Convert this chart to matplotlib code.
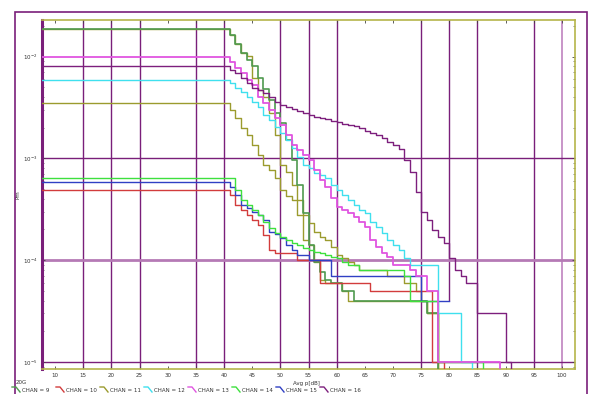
import numpy as np
import matplotlib
matplotlib.use('Agg')
import matplotlib.pyplot as plt
from matplotlib.lines import Line2D
from matplotlib.patches import Rectangle
from matplotlib.ticker import LogLocator, NullFormatter

W, H = 591, 394

# ---------------- data ----------------
x_ticks = [10, 15, 20, 25, 30, 35, 40, 45, 50, 55, 60, 65, 70, 75, 80, 85, 90, 95, 100]
x_tick_labels = [str(v) for v in x_ticks]
y_ticks = [1e-2, 1e-3, 1e-4, 1e-5]
y_tick_labels = [r'$10^{-2}$', r'$10^{-3}$', r'$10^{-4}$', r'$10^{-5}$']
x_grid = [15, 20, 25, 35, 40, 50, 55, 60, 75, 85, 95]
chan_labels = ['CHAN = 9', 'CHAN = 10', 'CHAN = 11', 'CHAN = 12',
               'CHAN = 13', 'CHAN = 14', 'CHAN = 15', 'CHAN = 16']
step_start = 41  # first step (dB); steps every 1 dB

chan9_init = 0.0186
chan9_levels = [0.01626, 0.01327, 0.01082, 0.00924, 0.00807, 0.00615, 0.0048, 0.00374,
                0.00279, 0.00222, 0.00151, 0.000963, 0.000547, 0.00029, 0.000141, 9.5e-5,
                7.6e-5, 6.4e-5, 6e-5, 6e-5, 5e-5, 5e-5,
                4e-5, 4e-5, 4e-5, 4e-5, 4e-5, 4e-5, 4e-5, 4e-5, 4e-5, 4e-5, 4e-5, 4e-5, 4e-5,
                3e-5, 3e-5]
chan9_end = 78

chan11a_init = 0.0186
chan11a_levels = [0.01626, 0.01327, 0.01082, 0.0101, 0.00615, 0.00469, 0.004, 0.00279,
                  0.00169, 0.00086, 0.000734, 0.000547, 0.00039, 0.000278, 0.000232, 0.000189,
                  0.000169, 0.000158, 0.000134, 0.000112, 0.000105, 9.5e-5, 9e-5,
                  8e-5, 8e-5, 8e-5, 8e-5, 8e-5, 7e-5, 7e-5, 7e-5, 6e-5, 6e-5, 5e-5, 4e-5,
                  3e-5, 3e-5]
chan11a_end = 78

chan11b_init = 0.00349
chan11b_levels = [0.00298, 0.00249, 0.00199, 0.00169, 0.00135, 0.00108, 0.00086, 0.000768,
                  0.000641, 0.000489, 0.00043, 0.00039, 0.000278, 0.000158, 0.000141, 9.5e-5,
                  6.4e-5, 6e-5, 6e-5, 6e-5, 5e-5,
                  4e-5, 4e-5, 4e-5, 4e-5, 4e-5, 4e-5, 4e-5, 4e-5, 4e-5, 4e-5, 4e-5, 4e-5, 4e-5, 4e-5,
                  3e-5, 3e-5]
chan11b_end = 78

chan13_init = 0.00989
chan13_levels = [0.00883, 0.0077, 0.00689, 0.00588, 0.00525, 0.004, 0.00349, 0.00298,
                 0.00249, 0.00212, 0.00169, 0.00135, 0.0012, 0.00108, 0.000963, 0.000768,
                 0.000613, 0.000522, 0.000408, 0.000333, 0.000311, 0.00029, 0.000265, 0.000237,
                 0.000211, 0.000158, 0.000134, 0.000117, 0.000107, 9e-5, 9e-5, 9e-5, 8e-5,
                 7e-5, 7e-5, 5e-5, 5e-5,
                 1e-5, 1e-5, 1e-5, 1e-5, 1e-5, 1e-5, 1e-5, 1e-5, 1e-5, 1e-5, 1e-5]
chan13_end = 89

chan12_init = 0.00588
chan12_levels = [0.00549, 0.00491, 0.00448, 0.004, 0.00357, 0.00319, 0.00266, 0.00238,
                 0.00203, 0.00177, 0.00151, 0.00126, 0.00103, 0.00086, 0.000804, 0.000718,
                 0.000686, 0.000641, 0.000547, 0.000489, 0.000436, 0.00039, 0.000348, 0.000311,
                 0.00029, 0.000237, 0.000211, 0.000185, 0.000158, 0.000141, 0.000126, 0.000105,
                 9e-5, 9e-5, 9e-5, 9e-5, 9e-5,
                 3e-5, 3e-5, 3e-5, 3e-5, 1e-5, 1e-5]
chan12_end = 84

chan16_init = 0.00807
chan16_levels = [0.00737, 0.00689, 0.00615, 0.00549, 0.00491, 0.00469, 0.00438, 0.004,
                 0.00357, 0.00334, 0.00319, 0.00305, 0.00291, 0.00279, 0.00266, 0.00255,
                 0.00249, 0.00243, 0.00233, 0.00227, 0.00217, 0.00212, 0.00208, 0.00199,
                 0.00186, 0.00177, 0.00169, 0.00158, 0.00145, 0.00135, 0.00123, 0.000963,
                 0.000734, 0.000467, 0.000297, 0.000248, 0.000198, 0.000169, 0.000148, 0.000105,
                 8e-5, 7e-5, 6e-5, 6e-5, 3e-5, 3e-5, 3e-5, 3e-5, 3e-5, 1e-5]
chan16_end = 91

chan14_init = 0.000641
chan14_levels = [0.000641, 0.000489, 0.00039, 0.000348, 0.000311, 0.000278, 0.000237, 0.000207,
                 0.000185, 0.000169, 0.000158, 0.000148, 0.000141, 0.000131, 0.000126, 0.00012,
                 0.000117, 0.000112, 0.000107, 0.000105, 9.5e-5, 9e-5, 9e-5,
                 8e-5, 8e-5, 8e-5, 8e-5, 8e-5, 8e-5, 8e-5, 8e-5, 7e-5,
                 4e-5, 4e-5, 4e-5, 4e-5, 4e-5,
                 1e-5, 1e-5, 1e-5, 1e-5, 1e-5, 1e-5, 1e-5, 1e-5]
chan14_end = 86

chan15_init = 0.000586
chan15_levels = [0.000522, 0.000436, 0.000348, 0.000325, 0.000297, 0.000278, 0.000248, 0.000189,
                 0.00018, 0.000165, 0.000141, 0.000126, 0.000112, 0.000112,
                 1e-4, 1e-4, 1e-4, 1e-4,
                 7e-5, 7e-5, 7e-5, 7e-5, 7e-5, 7e-5, 7e-5, 7e-5, 7e-5, 7e-5, 7e-5, 7e-5,
                 7e-5, 7e-5, 7e-5, 7e-5,
                 4e-5, 4e-5, 4e-5, 4e-5, 4e-5]
chan15_end = 80

chan10_init = 0.000489
chan10_levels = [0.000436, 0.000348, 0.000311, 0.000278, 0.000248, 0.000221, 0.000177, 0.000126,
                 0.000117, 0.000117, 0.000117, 0.000117,
                 1e-4, 1e-4, 1e-4, 1e-4,
                 6e-5, 6e-5, 6e-5, 6e-5, 6e-5, 6e-5, 6e-5, 6e-5, 6e-5,
                 5e-5, 5e-5, 5e-5, 5e-5, 5e-5, 5e-5, 5e-5, 5e-5, 5e-5, 5e-5, 5e-5,
                 1e-5, 1e-5]
chan10_end = 79

# ---------------- styling ----------------
PURPLE = '#7a1f7a'
OLIVE_AX = '#b5b54a'
colors = {
    9: '#4f9a4f', 10: '#d23c3c', 11: '#9b9b2e', 12: '#3fe0ee',
    13: '#e055e0', 14: '#3ee03e', 15: '#3040c4', 16: '#7d1f7d',
}
FLOOR = 1e-7

fig = plt.figure(figsize=(W / 100, H / 100), dpi=100)
ax = fig.add_axes([42 / W, 1 - 369 / H, (575 - 42) / W, (369 - 20) / H])
ax.set_yscale('log')
ax.set_xlim(7.69, 102.31)
ax.set_ylim(8.53e-6, 0.02283)

# grid
for gx in x_grid:
    ax.axvline(gx, color=PURPLE, lw=1.0, zorder=1)
ax.axvline(100, color='#c48cc4', lw=1.3, zorder=1)
ax.vlines(80, 4e-5, 1.0, color=PURPLE, lw=1.0, zorder=1)
ax.axhline(1e-3, color=PURPLE, lw=1.0, zorder=1)
ax.axhline(1e-4, color='#b57ab5', lw=2.0, zorder=1)
ax.axhline(1e-5, color=PURPLE, lw=1.0, zorder=1)


def draw(init, levels, end, color, drop=True, lw=1.0):
    xs = np.concatenate([[5.0], np.arange(step_start, end + 1, dtype=float)])
    last = FLOOR if drop else levels[-1]
    ys = np.array([init] + list(levels) + [last])
    ax.plot(xs, ys, drawstyle='steps-post', color=color, lw=lw, zorder=3)


draw(chan11b_init, chan11b_levels, chan11b_end, colors[11])
draw(chan11a_init, chan11a_levels, chan11a_end, colors[11])
draw(chan9_init, chan9_levels, chan9_end, colors[9], lw=1.2)
draw(chan10_init, chan10_levels, chan10_end, colors[10])
draw(chan15_init, chan15_levels, chan15_end, colors[15], drop=False)
draw(chan14_init, chan14_levels, chan14_end, colors[14])
draw(chan12_init, chan12_levels, chan12_end, colors[12])
draw(chan13_init, chan13_levels, chan13_end, colors[13], lw=1.3)
draw(chan16_init, chan16_levels, chan16_end, colors[16])

# spines
for s in ['top', 'right', 'bottom']:
    ax.spines[s].set_color(OLIVE_AX)
    ax.spines[s].set_linewidth(1.2)
ax.spines['left'].set_color(PURPLE)
ax.spines['left'].set_linewidth(2.2)

# ticks
ax.set_xticks(x_ticks, x_tick_labels)
ax.set_yticks(y_ticks, y_tick_labels)
ax.yaxis.set_minor_locator(LogLocator(base=10, subs=np.arange(2, 10)))
ax.yaxis.set_minor_formatter(NullFormatter())
ax.tick_params(axis='x', which='both', direction='in', length=2, width=0.6, color='#444444',
               top=True, labelsize=4, labelcolor='#333333', pad=3)
ax.tick_params(axis='y', which='major', direction='in', length=2.5, width=0.6, color='#444444',
               right=True, labelsize=4, labelcolor='#333333', pad=3)
ax.tick_params(axis='y', which='minor', direction='in', length=1.5, width=0.5, color='#555555',
               right=True)

ax.set_ylabel('Pm', fontsize=4, color='#333333')
ax.yaxis.set_label_coords((20 - 42) / 533, 0.5)

fig.text(306 / W, 1 - 383 / H, 'Avg p[dB]', ha='center', va='center', fontsize=4, color='#333333')
fig.text(16 / W, 1 - 383 / H, '20G', ha='left', va='center', fontsize=4, color='#333333')

# legend row
for i, (lab, ch) in enumerate(zip(chan_labels, range(9, 17))):
    x0 = 12 + 44 * i
    pts_x = [x0, x0 + 4, x0 + 8]
    pts_y = [387, 387, 392]
    fig.add_artist(Line2D([p / W for p in pts_x], [1 - p / H for p in pts_y],
                          color=colors[ch], lw=1.0, transform=fig.transFigure))
    fig.text((x0 + 10) / W, 1 - 390 / H, lab, ha='left', va='center', fontsize=4,
             color='#333333')

# outer frame
fig.add_artist(Rectangle((15 / W, -0.05), 572 / W, (H - 12) / H + 0.05,
                         transform=fig.transFigure, fill=False, edgecolor=PURPLE, lw=1.2))

fig.savefig('out.png', dpi=100)
